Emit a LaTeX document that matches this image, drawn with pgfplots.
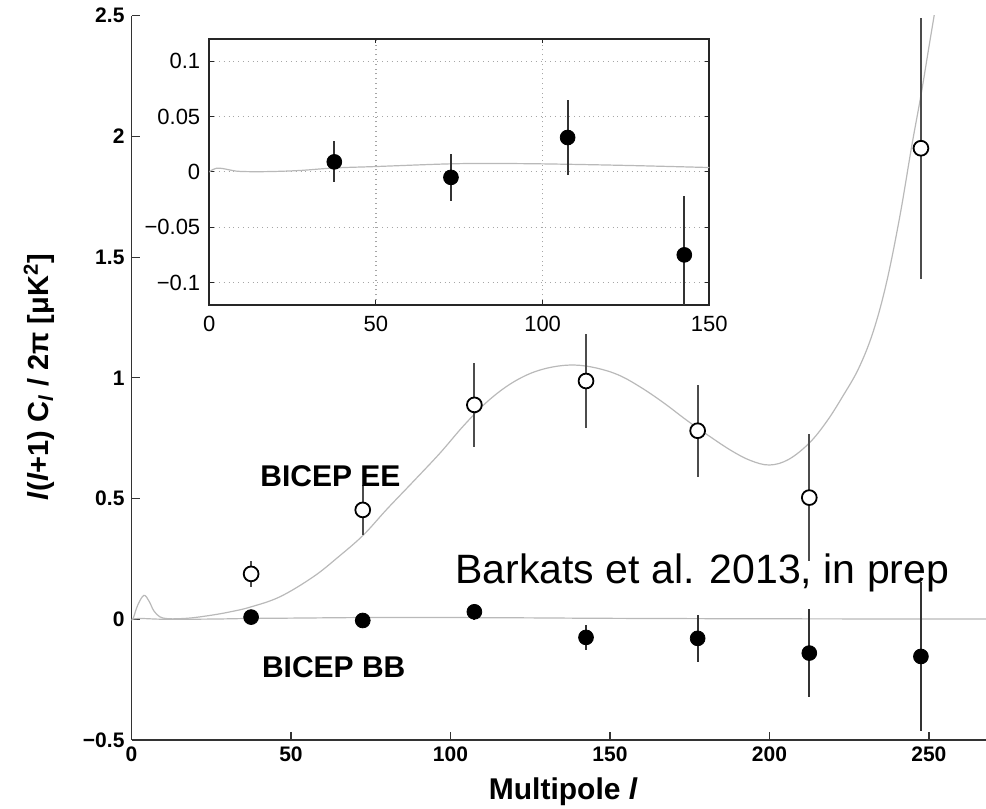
\documentclass[border=0pt]{standalone}
\usepackage{pgfplots}
\pgfplotsset{compat=1.18}
\usepackage{fontspec}
\setmainfont{Liberation Sans}
\pgfplotstableread{
l v e
37.5 0.188 0.054
72.5 0.453 0.102
107.5 0.888 0.173
142.5 0.987 0.196
177.5 0.781 0.191
212.5 0.504 0.262
247.5 1.951 0.540
}\EEdata
\pgfplotstableread{
l v e
37.5 0.009 0.0185
72.5 -0.005 0.021
107.5 0.031 0.034
142.5 -0.075 0.053
177.5 -0.079 0.097
212.5 -0.140 0.181
247.5 -0.154 0.307
}\BBdata
\begin{document}
\begin{tikzpicture}
\path[use as bounding box] (0,0) rectangle (493pt,404.5pt);
\begin{axis}[
  at={(65.75pt,34.5pt)}, anchor=south west,
  scale only axis, width=427.25pt, height=362.15pt,
  xmin=0, xmax=267.9, ymin=-0.5, ymax=2.5,
  axis x line=bottom, axis y line=left,
  axis line style={-, line width=0.8pt, black!80},
  xtick={0,50,100,150,200,250},
  xticklabels={0,50,100,150,200,250},
  ytick={-0.5,0,0.5,1,1.5,2,2.5},
  yticklabels={−0.5,0,0.5,1,1.5,2,2.5},
  tick align=inside, major tick length=4pt,
  tick style={black!80, line width=0.6pt},
  tick label style={font=\bfseries\fontsize{10.5}{12}\selectfont},
]
\addplot[gray!55, line width=0.6pt, smooth, tension=0.6] coordinates {
(0,0) (0.5,0.003) (2,0.06) (3.9,0.099) (5.5,0.075) (7,0.035) (8.9,0.01) (11,0.003) (14,0.002) (19,0.006) (25.6,0.018) (31,0.031) (37.1,0.05) (46.5,0.093) (57,0.176) (65,0.26) (72.7,0.349) (80,0.455) (88.3,0.57) (96.7,0.688) (104,0.80) (111,0.895) (118,0.968) (125,1.018) (132,1.045) (139,1.053) (146,1.04) (153,1.01) (160,0.958) (167,0.895) (174,0.825) (181,0.76) (188,0.699) (194,0.658) (200,0.639) (206,0.662) (212.5,0.73) (218,0.82) (223.1,0.926) (228,1.04) (232.5,1.19) (236.7,1.394) (240.9,1.67) (244.6,1.959) (247.5,2.17) (250,2.37) (252,2.53) (254,2.7)
};
\addplot[gray!55, line width=0.6pt, smooth, tension=0.6] coordinates {
(0,0) (1,0.002) (2.2,0.0033) (4,0.003) (6,0.0018) (9.2,0.0004) (17,0.0002) (27,0.0012) (37.5,0.0035) (50,0.0048) (72,0.0072) (85,0.0075) (100,0.0072) (125,0.0058) (150,0.0039) (200,0.002) (268,0.001)
};
\addplot[only marks, mark=*, mark size=3.7pt, mark options={fill=white, draw=black, line width=0.9pt},
  error bars/.cd, y dir=both, y explicit, error mark=none,
  error bar style={line width=0.9pt, black!70}]
  table[x=l, y=v, y error=e] {\EEdata};
\addplot[only marks, mark=*, mark size=3.7pt, mark options={fill=black, draw=black},
  error bars/.cd, y dir=both, y explicit, error mark=none,
  error bar style={line width=0.9pt, black!80}]
  table[x=l, y=v, y error=e] {\BBdata};
\node[anchor=base west, inner sep=0pt, font=\bfseries\fontsize{15}{18}\selectfont] at (axis cs:40.3,0.552) {BICEP EE};
\node[anchor=base west, inner sep=0pt, font=\bfseries\fontsize{15}{18}\selectfont] at (axis cs:40.8,-0.240) {BICEP BB};
\node[anchor=base west, inner sep=0pt, font=\fontsize{20.5}{24}\selectfont] at (axis cs:101.4,0.149) {Barkats et al. 2013, in prep};
\end{axis}
\begin{axis}[
  at={(104.65pt,252.15pt)}, anchor=south west,
  scale only axis, width=250pt, height=132.85pt,
  xmin=0, xmax=150, ymin=-0.12, ymax=0.12,
  axis background/.style={fill=white},
  xtick={0,50,100,150}, xticklabels={0,50,100,150},
  ytick={-0.1,-0.05,0,0.05,0.1},
  yticklabels={−0.1,−0.05,0,0.05,0.1},
  grid=major, grid style={dotted, gray!70, line width=0.6pt},
  tick align=inside, major tick length=2.2pt,
  axis line style={line width=0.9pt, black!85},
  tick style={black!85, line width=0.5pt},
  tick label style={font=\fontsize{11}{13}\selectfont},
  xticklabel style={yshift=-2pt},
  yticklabel style={xshift=-1pt},
]
\addplot[gray!55, line width=0.6pt, smooth, tension=0.6] coordinates {
(0,0) (1,0.002) (2.2,0.0033) (4,0.003) (6,0.0018) (9.2,0.0004) (17,0.0002) (27,0.0012) (37.5,0.0035) (50,0.0048) (72,0.0072) (85,0.0075) (100,0.0072) (125,0.0058) (150,0.0039)
};
\addplot[only marks, mark=*, mark size=3.7pt, mark options={fill=black, draw=black},
  error bars/.cd, y dir=both, y explicit, error mark=none,
  error bar style={line width=0.9pt, black!80}]
  table[x=l, y=v, y error=e] {\BBdata};
\end{axis}
\node[anchor=base, font=\bfseries\fontsize{15}{18}\selectfont] at (281.65pt,4.5pt) {Multipole \textit{l}};
\node[rotate=90, font=\bfseries\fontsize{14.5}{17}\selectfont] at (19.5pt,216pt) {\textit{l}(\textit{l}+1) C\textsubscript{\textit{l}} / 2π [μK\textsuperscript{2}]};
\end{tikzpicture}
\end{document}
